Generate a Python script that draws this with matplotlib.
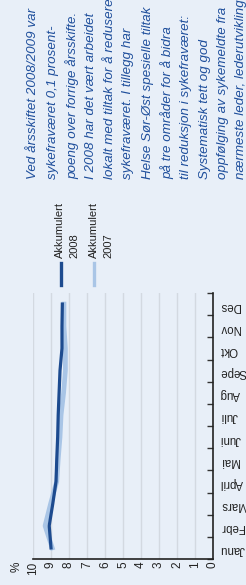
import matplotlib
matplotlib.use("Agg")
import matplotlib.pyplot as plt
import numpy as np

months = ["Janu", "Febr", "Mars", "April", "Mai", "Juni", "Juli", "Aug", "Sepe", "Okt", "Nov", "Des"]
akk_2008 = [9.0, 9.1, 8.9, 8.72, 8.68, 8.63, 8.6, 8.55, 8.5, 8.39, 8.39, 8.37]
akk_2007 = [8.93, 9.33, 9.02, 8.68, 8.6, 8.5, 8.44, 8.3, 8.2, 8.2, 8.28, 8.28]
value_ticks = list(range(0, 11))
series_labels = ["Akkumulert", "2008", "Akkumulert", "2007"]
body_lines = [
    "Ved årsskiftet 2008/2009 var",
    "sykefraværet 0,1 prosent-",
    "poeng over forrige årsskifte.",
    "I 2008 har det vært arbeidet",
    "lokalt med tiltak for å redusere",
    "sykefraværet. I tillegg har",
    "Helse Sør-Øst spesielle tiltak",
    "på tre områder for å bidra",
    "til reduksjon i sykefraværet:",
    "Systematisk tett og god",
    "oppfølging av sykemeldte fra",
    "nærmeste leder, lederutvikling",
]

BG = "#e8eff8"
DARK = "#1d4b8f"
LIGHT = "#a9c5e6"
TXT = "#1f4f9c"
W, H = 246, 585

plt.rcParams["font.family"] = ["Liberation Sans", "DejaVu Sans"]
fig = plt.figure(figsize=(W / 100, H / 100), dpi=100, facecolor=BG)

def fx(px):
    return px / W

def fy(py):
    return 1 - py / H

ax = fig.add_axes([fx(33), fy(559), fx(213) - fx(33), fy(293) - fy(559)])
ax.set_facecolor(BG)
ax.set_xlim(10, 0)
ax.set_ylim(0, 12)

ypos = np.arange(len(months)) + 0.5
ax.plot(akk_2007, ypos, color=LIGHT, lw=3.4, solid_joinstyle="round", zorder=3)
ax.plot(akk_2008, ypos, color=DARK, lw=2.3, solid_joinstyle="round", zorder=4)

# value axis (bottom)
ax.set_xticks(value_ticks)
ax.set_xticklabels([str(v) for v in value_ticks], rotation=90, fontsize=8.5, color="#222")
ax.tick_params(axis="x", length=0, pad=2)
for v in value_ticks[1:]:
    ax.axvline(v, color="#d3d9e1", lw=1, zorder=1)

# month axis (right)
ax.yaxis.tick_right()
ax.set_yticks(np.arange(0, 13))
ax.set_yticklabels([])
ax.set_yticks(ypos, minor=True)
ax.set_yticklabels(months, minor=True, rotation=180, fontsize=8.3, color="#222")
ax.tick_params(axis="y", which="major", direction="in", length=4, color="#333", width=1)
ax.tick_params(axis="y", which="minor", length=0, pad=5)
for t in ax.yaxis.get_minorticklabels():
    t.set_horizontalalignment("left")

for s in ["left", "top"]:
    ax.spines[s].set_visible(False)
ax.spines["bottom"].set_color("#222")
ax.spines["right"].set_color("#222")
ax.spines["bottom"].set_linewidth(1.2)
ax.spines["right"].set_linewidth(1.2)

fig.text(fx(17), fy(567), "%", rotation=90, ha="center", va="center", fontsize=8.5, color="#222")

# legend
fig.add_artist(plt.Line2D([fx(61), fx(61)], [fy(285), fy(263)], color=DARK, lw=2.4))
fig.add_artist(plt.Line2D([fx(94), fx(94)], [fy(285), fy(263)], color=LIGHT, lw=2.4))
leg_x = [60, 74, 94, 108]
for lx, lab in zip(leg_x, series_labels):
    fig.text(fx(lx), fy(258), lab, rotation=90, rotation_mode="anchor",
             ha="left", va="center", fontsize=8, color="#222")

# body text
xs = [33, 53, 72, 91, 110, 128, 148, 167, 186, 205, 223, 241]
for x, line in zip(xs, body_lines):
    fig.text(fx(x), fy(179), line, rotation=90, rotation_mode="anchor",
             ha="left", va="center", fontsize=9.6, style="italic", color=TXT)

fig.savefig("out.png", dpi=100, facecolor=BG)
